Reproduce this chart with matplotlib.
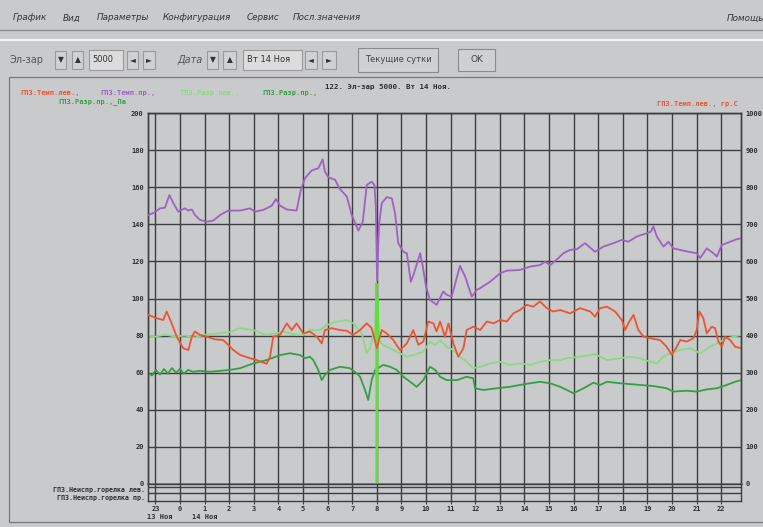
import matplotlib
matplotlib.use("Agg")
import matplotlib.pyplot as plt
from matplotlib.patches import Rectangle
from matplotlib.lines import Line2D

# ---------------- data ----------------
hour_ticks = list(range(-1, 23))
hour_labels = ["23"] + [str(h) for h in range(0, 23)]
left_ticks = list(range(0, 201, 20))
right_ticks = list(range(0, 1001, 100))

# ГПЗ.Темп.пр. (purple, right axis, °C)
purple_h = [-1.30, -1.09, -0.81, -0.61, -0.43, -0.27, -0.07, 0.07, 0.20, 0.34, 0.48, 0.61, 0.81, 1.09, 1.35,
            1.63, 1.96, 2.44, 2.85, 3.05, 3.39, 3.73, 3.90, 4.07, 4.34, 4.74, 4.91, 5.08, 5.35, 5.62, 5.80,
            5.89, 6.03, 6.30, 6.50, 6.78, 6.98, 7.25, 7.43, 7.59, 7.79, 7.90, 7.96, 8.01, 8.09, 8.20, 8.40,
            8.61, 8.74, 8.87, 9.08, 9.22, 9.38, 9.51, 9.76, 9.87, 10.00, 10.16, 10.43, 10.70, 10.84, 11.04,
            11.38, 11.59, 11.86, 12.06, 12.20, 12.60, 13.01, 13.28, 13.82, 14.23, 14.63, 14.84, 15.04, 15.38,
            15.58, 15.85, 16.13, 16.46, 16.87, 17.21, 17.61, 17.96, 18.22, 18.56, 18.97, 19.13, 19.24, 19.38,
            19.65, 19.85, 20.05, 20.33, 20.66, 21.00, 21.14, 21.41, 21.68, 21.82, 22.02, 22.36, 22.63, 22.80]
purple_v = [725, 730, 743, 745, 779, 757, 734, 739, 743, 737, 740, 725, 712, 707, 710,
            725, 737, 737, 743, 734, 739, 750, 768, 750, 740, 737, 793, 824, 845, 851, 875,
            842, 827, 820, 795, 775, 725, 683, 707, 806, 815, 806, 748, 550, 700, 757, 773,
            770, 730, 649, 626, 622, 545, 568, 622, 586, 532, 496, 483, 519, 510, 505,
            588, 559, 505, 523, 528, 545, 568, 575, 577, 586, 590, 599, 590, 609,
            622, 631, 633, 649, 626, 640, 649, 658, 653, 667, 676, 680, 694, 667,
            640, 653, 635, 631, 626, 622, 609, 635, 622, 613, 644, 653, 660, 662]

# ГПЗ.Темп.лев. (red, right axis, °C)
red_h = [-1.29, -0.95, -0.68, -0.54, -0.34, -0.13, 0.13, 0.34, 0.48, 0.61, 0.81, 1.09, 1.42, 1.76, 1.96,
         2.17, 2.44, 2.85, 3.12, 3.52, 3.66, 3.79, 4.07, 4.34, 4.54, 4.74, 5.01, 5.28, 5.56, 5.76, 5.89,
         6.17, 6.50, 6.78, 7.04, 7.32, 7.59, 7.79, 8.00, 8.20, 8.40, 8.67, 8.94, 9.22, 9.48, 9.69, 9.89,
         10.09, 10.30, 10.43, 10.57, 10.77, 10.91, 11.11, 11.31, 11.52, 11.65, 11.92, 12.20, 12.47, 12.74,
         13.01, 13.28, 13.55, 13.82, 14.09, 14.36, 14.63, 14.91, 15.17, 15.45, 15.85, 16.26, 16.67, 16.87,
         17.07, 17.35, 17.68, 17.96, 18.09, 18.22, 18.43, 18.63, 18.84, 19.11, 19.51, 19.78, 19.99, 20.19,
         20.33, 20.60, 20.87, 21.00, 21.11, 21.27, 21.41, 21.61, 21.75, 21.88, 22.02, 22.15, 22.36, 22.56, 22.80]
red_v = [456, 447, 442, 465, 433, 397, 366, 361, 397, 411, 402, 397, 390, 388, 375,
         361, 348, 339, 334, 324, 343, 397, 402, 433, 415, 433, 406, 411, 397, 379, 415,
         420, 415, 413, 402, 415, 433, 420, 366, 415, 406, 388, 361, 379, 415, 375, 384,
         438, 433, 411, 438, 397, 433, 379, 343, 366, 415, 424, 415, 438, 433,
         442, 438, 460, 469, 483, 478, 492, 474, 465, 469, 460, 474, 465, 451,
         474, 478, 465, 442, 415, 433, 456, 415, 397, 393, 388, 370, 348, 370,
         388, 384, 393, 415, 465, 447, 406, 424, 420, 384, 370, 397, 388, 370, 366]

# ГПЗ.Разр.лев. (light green, left axis, Па)
lgreen_h = [-1.30, -1.02, -0.61, -0.20, 0.20, 0.61, 1.02, 1.42, 2.03, 2.44, 2.98, 3.52, 3.79, 4.20, 4.74,
            5.00, 5.28, 5.69, 5.96, 6.37, 6.78, 7.04, 7.39, 7.59, 7.72, 7.86, 7.95, 7.98, 8.00, 8.03, 8.07,
            8.26, 8.54, 8.81, 9.22, 9.48, 9.89, 10.16, 10.37, 10.57, 10.84, 11.11, 11.38, 11.65, 11.92,
            12.20, 12.60, 13.01, 13.41, 13.82, 14.23, 14.63, 15.04, 15.45, 15.72, 16.26, 16.87, 17.35,
            17.89, 18.29, 18.70, 19.11, 19.38, 19.65, 19.92, 20.33, 20.73, 21.14, 21.54, 21.95, 22.22,
            22.49, 22.80]
lgreen_v = [80, 79.4, 80.5, 79.5, 80, 79, 80.5, 81, 82, 84, 83, 80.3, 81, 82, 80.5,
            80.3, 83, 83, 85.7, 87.5, 88.4, 86.6, 81.2, 70.5, 73.2, 81.2, 80, 108, 0, 100, 78,
            74.9, 73.2, 71.3, 68.6, 69.5, 71.3, 76.7, 74.9, 77.6, 74, 72.2, 68.6, 65.9, 62.4,
            63.2, 65, 65.9, 64.2, 65, 64.2, 65.9, 66.8, 66.8, 67.8, 68.6, 70, 66.8,
            67.8, 68.6, 67.8, 65.9, 65, 68.6, 70.5, 72.2, 73.2, 70.5, 74, 76.7, 78.5,
            79.4, 80.3]

# ГПЗ.Разр.пр. (dark green, left axis, Па)
dgreen_h = [-1.30, -1.14, -0.98, -0.81, -0.65, -0.49, -0.33, -0.16, 0.00, 0.16, 0.33, 0.53, 0.81, 1.22,
            1.63, 2.03, 2.44, 2.98, 3.52, 4.07, 4.47, 4.88, 5.08, 5.28, 5.42, 5.62, 5.76, 5.89, 6.10, 6.50,
            6.91, 7.15, 7.32, 7.52, 7.65, 7.79, 7.93, 8.26, 8.54, 8.81, 9.08, 9.35, 9.62, 9.89, 10.16,
            10.37, 10.57, 10.84, 11.25, 11.65, 11.92, 11.99, 12.33, 12.87, 13.41, 13.82, 14.23, 14.63,
            15.04, 15.45, 15.72, 15.99, 16.40, 16.80, 17.07, 17.35, 17.89, 18.70, 19.24, 19.78, 20.05,
            20.60, 21.00, 21.41, 21.82, 22.22, 22.56, 22.80]
dgreen_v = [60, 58.5, 61.5, 59, 62, 59.5, 62.5, 60, 62, 59.5, 61.5, 60.5, 61, 60.5,
            61, 61.5, 62.4, 65, 66.8, 69.5, 70.5, 69.5, 67.8, 68.6, 66.8, 61.5, 56, 58.8, 61.5, 63.2,
            62.4, 60, 57.8, 50.7, 45.3, 56, 61.5, 64.2, 63.2, 61.5, 57.8, 55.1, 52.4, 56, 63.2,
            61.5, 57.8, 56, 56, 57.8, 57, 51.6, 50.7, 51.6, 52.4, 53.4, 54.3, 55.1,
            54.3, 52.4, 50.7, 48.9, 51.6, 54.6, 53.4, 55.1, 54.3, 53.4, 52.8, 51.6, 49.8,
            50.3, 49.8, 51, 51.6, 53.4, 55.1, 56]

legend_names = ["ГПЗ.Темп.лев.,", "ГПЗ.Темп.пр.,", "ГПЗ.Разр.лев.,", "ГПЗ.Разр.пр.,"]
title_text = "122. Эл-зар 5000. Вт 14 Ноя."
left_unit = "ГПЗ.Разр.пр.,_Па"
right_unit = "ГПЗ.Темп.лев., гр.С"
band_labels = ["ГПЗ.Неиспр.горелка лев.", "ГПЗ.Неиспр.горелка пр."]
menu_items = ["График", "Вид", "Параметры", "Конфигурация", "Сервис", "Посл.значения"]

# ---------------- styling ----------------
W, H = 763, 527
BG = "#c9cacc"
RED = "#ec5530"
PURPLE = "#a060c4"
LGREEN = "#8cd884"
DGREEN = "#35a043"
SPIKE = "#5ee03a"
GRID = "#3e3e3e"
TXT = "#2e2e2e"
MONO = "DejaVu Sans Mono"

fig = plt.figure(figsize=(W / 100, H / 100), dpi=100)
fig.patch.set_facecolor(BG)


def fx(px):
    return px / W


def fy(py):
    return 1 - py / H


def hline(y, x0=0, x1=W, color="#808080", lw=1.0):
    fig.add_artist(Line2D([fx(x0), fx(x1)], [fy(y), fy(y)], transform=fig.transFigure,
                          color=color, lw=lw))


def box(x0, y0, x1, y1, fc="#d4d5d6", ec="#8a8a8a", lw=0.8):
    fig.add_artist(Rectangle((fx(x0), fy(y1)), (x1 - x0) / W, (y1 - y0) / H,
                             transform=fig.transFigure, facecolor=fc, edgecolor=ec, lw=lw))


# menu bar
menu_x = [13, 63, 97, 163, 247, 293]
for name, x in zip(menu_items, menu_x):
    fig.text(fx(x), fy(18), name, fontsize=6.3, style="italic", color="#333333", va="center")
fig.text(fx(727), fy(18), "Помощь", fontsize=6.3, style="italic", color="#333333", va="center")
hline(30, color="#8c8c8c", lw=1.0)
hline(40, color="#f2f2f2", lw=1.6)

# toolbar
fig.text(fx(10), fy(60), "Эл-зар", fontsize=7, color="#555555", va="center")
for (x0, x1, g) in [(55, 66, "▼"), (72, 83, "▲"), (127, 138, "◄"), (143, 155, "►"),
                    (207, 218, "▼"), (223, 236, "▲"), (305, 317, "◄"), (322, 336, "►")]:
    box(x0, 51, x1, 69, fc="#d0d1d2", ec="#9a9a9a")
    fig.text(fx((x0 + x1) / 2), fy(60), g, fontsize=5.5, color="#333333", ha="center", va="center")
box(89, 50, 123, 70, fc="#dcdcdc", ec="#9a9a9a")
fig.text(fx(92), fy(60), "5000", fontsize=6, color="#333333", va="center")
fig.text(fx(177), fy(60), "Дата", fontsize=7, style="italic", color="#555555", va="center")
box(243, 50, 302, 70, fc="#dcdcdc", ec="#9a9a9a")
fig.text(fx(247), fy(60), "Вт 14 Ноя", fontsize=6, color="#333333", va="center")
box(358, 48, 438, 72, fc="#cfd0d1", ec="#8a8a8a")
fig.text(fx(398), fy(60), "Текущие сутки", fontsize=6, color="#444444", ha="center", va="center")
box(458, 49, 495, 71, fc="#cfd0d1", ec="#8a8a8a")
fig.text(fx(476.5), fy(60), "OK", fontsize=6.5, color="#444444", ha="center", va="center")

# chart panel frame
box(9, 77, 775, 522, fc="none", ec="#7a7a7a", lw=0.9)

# title & legends
FS_LEG = 5.0
fig.text(fx(388), fy(87), title_text, fontsize=5.4, family=MONO, weight="bold", color=TXT,
         ha="center", va="center")
leg_x = [20, 100, 180, 262]
for name, x, c in zip(legend_names, leg_x, [RED, PURPLE, LGREEN, DGREEN]):
    fig.text(fx(x), fy(93), name, fontsize=FS_LEG, family=MONO, weight="bold", color=c, va="center")
fig.text(fx(58), fy(101.5), left_unit, fontsize=FS_LEG, family=MONO, weight="bold", color=DGREEN,
         va="center")
fig.text(fx(657), fy(104), right_unit, fontsize=FS_LEG, family=MONO, weight="bold", color=RED,
         va="center")

# ---------------- main axes ----------------
x_left, x_right = 148, 741
y_top, y_zero, y_bot = 113, 484, 501
ax = fig.add_axes([fx(x_left), fy(y_zero), (x_right - x_left) / W, (y_zero - y_top) / H])
ax.set_facecolor(BG)
ax.set_xlim(-1.30, 22.80)
ax.set_ylim(0, 200)
ax.set_xticks(hour_ticks)
ax.set_yticks(left_ticks)
ax.set_yticklabels([str(v) for v in left_ticks], fontsize=5, family=MONO, weight="bold", color=TXT)
ax.tick_params(axis="both", length=0, pad=3, labelbottom=False)
ax.grid(True, color=GRID, lw=1.0)
ax.set_axisbelow(True)
for s in ax.spines.values():
    s.set_color(GRID)
    s.set_linewidth(1.0)

ax.plot(dgreen_h, dgreen_v, color=DGREEN, lw=1.3, zorder=3)
ax.plot(lgreen_h, lgreen_v, color=LGREEN, lw=1.3, zorder=3)
ax.plot(lgreen_h[26:31], lgreen_v[26:31], color=SPIKE, lw=1.6, zorder=4)

ax2 = ax.twinx()
ax2.set_ylim(0, 1000)
ax2.set_yticks(right_ticks)
ax2.set_yticklabels([str(v) for v in right_ticks], fontsize=5, family=MONO, weight="bold", color=TXT)
ax2.tick_params(axis="y", length=0, pad=3)
for s in ax2.spines.values():
    s.set_color(GRID)
    s.set_linewidth(1.0)
ax2.plot(red_h, red_v, color=RED, lw=1.3, zorder=3)
ax2.plot(purple_h, purple_v, color=PURPLE, lw=1.3, zorder=3)

# ---------------- status band axes ----------------
bax = fig.add_axes([fx(x_left), fy(y_bot), (x_right - x_left) / W, (y_bot - y_zero) / H], sharex=ax)
bax.set_facecolor(BG)
bax.set_ylim(0, 17)
bax.set_yticks([8, 14])
bax.set_yticklabels([])
bax.grid(True, color=GRID, lw=1.0)
bax.set_axisbelow(True)
bax.tick_params(axis="y", length=0)
bax.tick_params(axis="x", length=2, color=GRID, pad=1.5)
bax.set_xticks(hour_ticks)
bax.set_xticklabels(hour_labels, fontsize=5, family=MONO, weight="bold", color=TXT)
for s in bax.spines.values():
    s.set_color(GRID)
    s.set_linewidth(1.0)

fig.text(fx(145), fy(490), band_labels[0], fontsize=4.8, family=MONO, weight="bold", color=TXT,
         ha="right", va="center")
fig.text(fx(145), fy(498), band_labels[1], fontsize=4.8, family=MONO, weight="bold", color=TXT,
         ha="right", va="center")
fig.text(fx(147), fy(517), "13 Ноя", fontsize=5, family=MONO, weight="bold", color=TXT, va="center")
fig.text(fx(192), fy(517), "14 Ноя", fontsize=5, family=MONO, weight="bold", color=TXT, va="center")

fig.savefig("out.png", dpi=100, facecolor=fig.get_facecolor())
